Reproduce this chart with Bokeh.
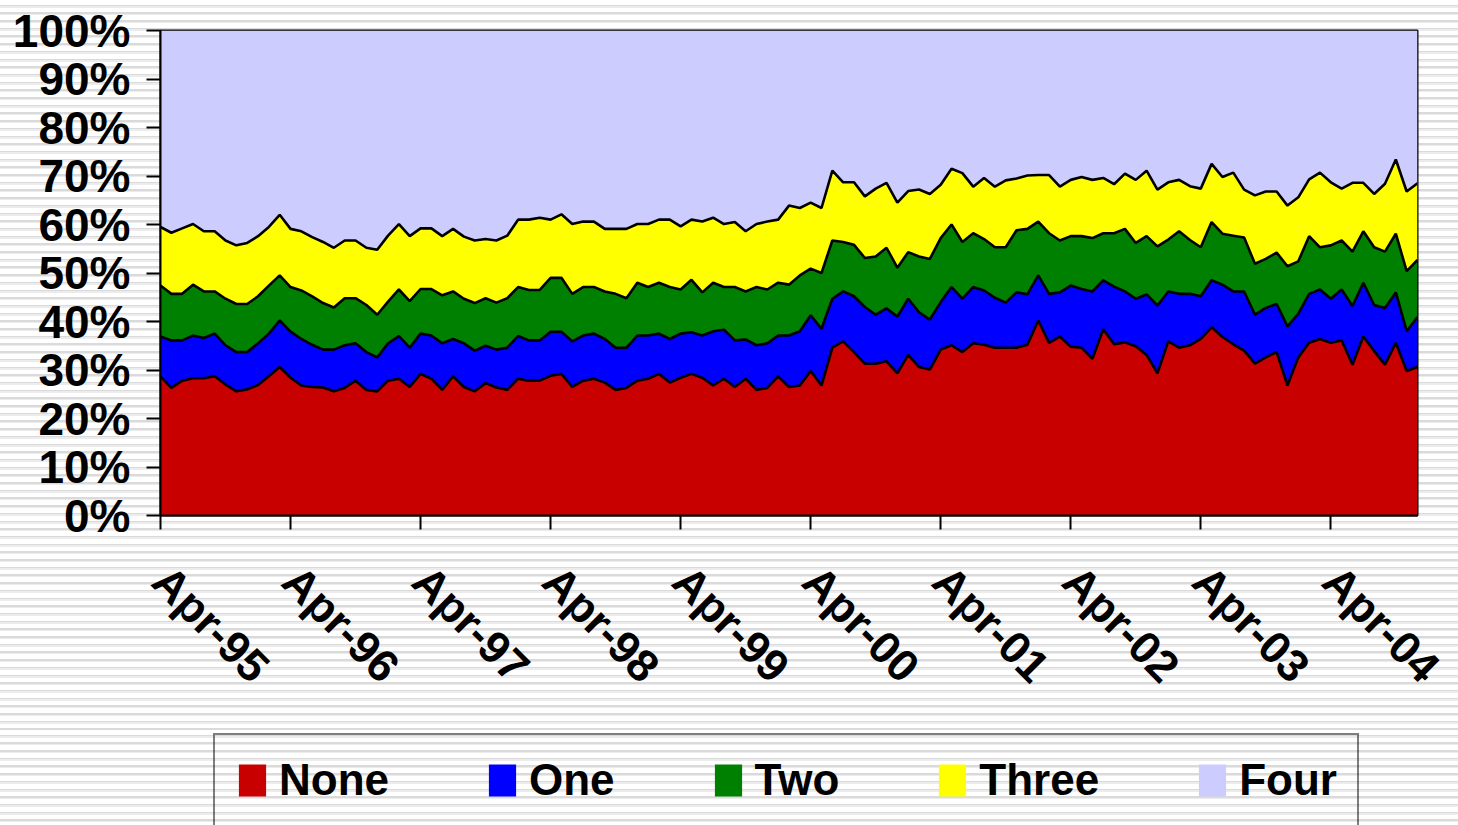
import math
from bokeh.plotting import figure
from bokeh.layouts import column
from bokeh.models import ColumnDataSource, FixedTicker, Legend, LegendItem, Range1d
from bokeh.transform import stack
from bokeh.embed import file_html
from bokeh.resources import INLINE

# ---------------- data (percent of total, monthly Apr-95 .. Dec-04) ----------------
series = ["None", "One", "Two", "Three", "Four"]
colors = ["#C80000", "#0000FF", "#008000", "#FFFF00", "#CCCCFF"]

none = [28.7, 26.3, 27.8, 28.3, 28.3, 28.7, 27.0, 25.6, 26.0, 26.9,
        28.7, 30.6, 28.4, 26.8, 26.5, 26.4, 25.6, 26.3, 27.8, 25.9,
        25.6, 27.8, 28.2, 26.5, 29.2, 28.2, 25.9, 28.7, 26.5, 25.6,
        27.3, 26.4, 25.9, 28.2, 27.8, 27.8, 28.8, 29.2, 26.5, 27.8,
        28.2, 27.4, 25.9, 26.3, 27.8, 28.2, 29.2, 27.4, 28.4, 29.2,
        28.4, 26.8, 28.2, 26.5, 28.2, 25.9, 26.3, 28.7, 26.5, 26.8,
        29.8, 26.8, 34.6, 35.9, 33.7, 31.3, 31.3, 31.8, 29.3, 33.1,
        30.6, 30.1, 34.2, 35.1, 33.7, 35.5, 35.2, 34.6, 34.6, 34.6,
        35.2, 40.2, 35.6, 36.9, 34.8, 34.6, 32.3, 38.4, 35.3, 35.7,
        34.9, 33.1, 29.3, 35.9, 34.6, 35.1, 36.4, 38.8, 36.8, 35.3,
        34.0, 31.3, 32.6, 33.7, 26.8, 32.6, 35.6, 36.4, 35.6, 36.1,
        31.1, 36.9, 33.9, 31.1, 35.6, 29.8, 30.6]

one = [8.2, 9.8, 8.3, 8.8, 8.3, 8.8, 8.1, 8.1, 7.7, 8.6,
       8.8, 9.6, 9.5, 9.6, 8.7, 7.8, 8.6, 8.8, 7.7, 7.8,
       7.0, 7.7, 8.8, 8.1, 8.3, 8.9, 9.6, 7.7, 9.0, 8.4,
       7.7, 7.8, 8.7, 8.8, 8.3, 8.3, 9.1, 8.7, 9.4, 9.3,
       9.3, 9.0, 8.7, 8.3, 9.3, 8.9, 8.3, 9.0, 9.1, 8.6,
       8.7, 11.2, 10.1, 9.6, 8.1, 9.2, 9.2, 8.4, 10.6, 11.2,
       11.5, 11.7, 10.1, 10.3, 11.5, 11.7, 10.1, 10.9, 11.7, 11.6,
       11.3, 10.3, 9.8, 12.0, 11.0, 11.6, 11.2, 10.3, 9.3, 11.4,
       10.4, 9.3, 10.1, 9.1, 12.6, 12.1, 13.9, 10.1, 11.9, 10.5,
       9.8, 12.5, 14.0, 10.3, 11.1, 10.6, 8.8, 9.7, 10.8, 10.9,
       12.2, 10.1, 10.2, 9.9, 12.2, 9.0, 10.1, 10.2, 9.1, 10.5,
       12.1, 11.1, 9.5, 11.7, 10.4, 8.2, 10.3]

two = [10.5, 9.6, 9.6, 10.5, 9.6, 8.7, 9.6, 9.9, 9.9, 9.7,
       9.9, 9.3, 9.2, 10.0, 10.0, 9.6, 8.7, 9.7, 9.3, 9.7,
       8.8, 8.6, 9.6, 9.6, 9.2, 9.6, 9.9, 9.8, 9.2, 9.8,
       9.8, 9.7, 10.2, 10.1, 10.4, 10.4, 11.1, 11.1, 9.8, 10.0,
       9.6, 9.8, 11.1, 10.2, 10.9, 10.0, 10.5, 10.7, 9.1, 10.8,
       8.9, 10.0, 8.8, 11.0, 9.9, 12.0, 11.1, 10.9, 10.5, 11.5,
       9.6, 11.5, 12.0, 10.2, 10.6, 10.1, 12.0, 12.5, 10.1, 9.6,
       11.5, 12.5, 13.2, 12.9, 11.7, 11.1, 10.6, 10.4, 11.4, 12.8,
       13.5, 11.1, 12.5, 10.7, 10.2, 10.9, 11.0, 9.7, 11.0, 12.9,
       11.5, 12.0, 12.2, 10.7, 12.9, 11.1, 10.1, 12.0, 10.5, 11.5,
       11.1, 10.5, 10.1, 10.6, 12.4, 10.8, 11.9, 8.7, 11.0, 10.1,
       11.2, 10.6, 11.9, 11.6, 12.1, 12.4, 11.8]

three = [12.1, 12.6, 13.5, 12.5, 12.4, 12.4, 12.0, 12.1, 12.6, 12.4,
         12.1, 12.5, 12.0, 12.2, 12.2, 12.6, 12.3, 11.9, 11.9, 11.8,
         13.4, 13.6, 13.5, 13.4, 12.5, 12.5, 12.2, 12.9, 12.8, 12.9,
         12.2, 12.8, 12.9, 13.9, 14.5, 14.9, 12.0, 13.1, 14.4, 13.5,
         13.5, 12.9, 13.4, 14.3, 12.1, 13.0, 13.0, 13.9, 13.0, 12.4,
         14.6, 13.4, 13.0, 13.4, 12.4, 13.0, 14.0, 13.0, 16.3, 13.9,
         13.6, 13.4, 14.4, 12.3, 12.9, 12.7, 14.0, 13.4, 13.4, 12.6,
         13.8, 13.4, 11.0, 11.5, 14.2, 9.6, 12.6, 12.5, 13.8, 10.7,
         11.0, 9.6, 12.0, 11.1, 11.6, 12.2, 12.0, 11.4, 10.1, 11.4,
         13.0, 13.5, 11.7, 11.8, 10.6, 11.1, 12.1, 12.0, 11.7, 13.0,
         9.9, 14.1, 13.9, 12.6, 12.5, 13.2, 11.7, 15.4, 13.0, 10.7,
         14.2, 10.0, 11.0, 14.0, 15.3, 16.4, 15.8]

four = [40.5, 41.7, 40.8, 39.9, 41.4, 41.4, 43.3, 44.3, 43.8, 42.4,
        40.5, 38.0, 40.9, 41.4, 42.6, 43.6, 44.8, 43.3, 43.3, 44.8,
        45.2, 42.3, 39.9, 42.4, 40.8, 40.8, 42.4, 40.9, 42.5, 43.3,
        43.0, 43.3, 42.3, 39.0, 39.0, 38.6, 39.0, 37.9, 39.9, 39.4,
        39.4, 40.9, 40.9, 40.9, 39.9, 39.9, 39.0, 39.0, 40.4, 39.0,
        39.4, 38.6, 39.9, 39.5, 41.4, 39.9, 39.4, 39.0, 36.1, 36.6,
        35.5, 36.6, 28.9, 31.3, 31.3, 34.2, 32.6, 31.4, 35.5, 33.1,
        32.8, 33.7, 31.8, 28.5, 29.4, 32.2, 30.4, 32.2, 30.9, 30.5,
        29.9, 29.8, 29.8, 32.2, 30.8, 30.2, 30.8, 30.4, 31.7, 29.5,
        30.8, 28.9, 32.8, 31.3, 30.8, 32.1, 32.6, 27.5, 30.2, 29.3,
        32.8, 34.0, 33.2, 33.2, 36.1, 34.4, 30.7, 29.3, 31.3, 32.6,
        31.4, 31.4, 33.7, 31.6, 26.6, 33.2, 31.5]

x_tick_labels = ["Apr-95", "Apr-96", "Apr-97", "Apr-98", "Apr-99",
                 "Apr-00", "Apr-01", "Apr-02", "Apr-03", "Apr-04"]
y_tick_labels = ["0%", "10%", "20%", "30%", "40%", "50%",
                 "60%", "70%", "80%", "90%", "100%"]

# ---------------- source ----------------
month = list(range(len(none)))
source = ColumnDataSource(dict(month=month, **dict(zip(series, [none, one, two, three, four]))))

FONT = "Liberation Sans"
STRIPES = {"background-image": "repeating-linear-gradient(180deg, #ffffff 0px, #ffffff 4.7px, "
                               "#dadada 4.7px, #dadada 6.2px, #ececec 6.2px, #ececec 7.7px)"}

# ---------------- main chart ----------------
p = figure(width=1458, height=730, output_backend="svg", toolbar_location=None,
           x_range=Range1d(0, len(month) - 1), y_range=Range1d(0, 100),
           min_border_left=160, min_border_right=41, min_border_top=30, min_border_bottom=215)
p.styles = STRIPES
p.border_fill_alpha = 0
p.background_fill_color = "#CCCCFF"
p.outline_line_color = "black"
p.outline_line_width = 2
p.grid.visible = False

areas = p.varea_stack(stackers=series, x="month", color=colors, source=source)
for k in range(1, len(series)):
    p.line(x="month", y=stack(*series[:k]), source=source,
           line_color="black", line_width=2.6)

tick_pos = [12 * i for i in range(len(x_tick_labels))]
p.xaxis.ticker = FixedTicker(ticks=tick_pos)
p.xaxis.major_label_overrides = dict(zip(tick_pos, x_tick_labels))
p.xaxis.major_label_orientation = -math.pi / 4
p.xaxis.major_label_standoff = 44

y_ticks = [10 * i for i in range(len(y_tick_labels))]
p.yaxis.ticker = FixedTicker(ticks=y_ticks)
p.yaxis.major_label_overrides = dict(zip(y_ticks, y_tick_labels))
p.yaxis.major_label_standoff = 16

for ax in (p.xaxis, p.yaxis):
    ax.axis_line_color = "black"
    ax.axis_line_width = 2
    ax.major_tick_line_color = "black"
    ax.major_tick_line_width = 2
    ax.major_tick_out = 14
    ax.major_tick_in = 0
    ax.minor_tick_line_color = None
    ax.major_label_text_font = FONT
    ax.major_label_text_font_style = "bold"
    ax.major_label_text_color = "black"
p.yaxis.major_label_text_font_size = "46px"
p.xaxis.major_label_text_font_size = "45px"

# ---------------- legend strip (same series, data kept out of view) ----------------
pl = figure(width=1458, height=95, output_backend="svg", toolbar_location=None,
            x_range=Range1d(0, 1), y_range=Range1d(1000, 1001),
            x_axis_type=None, y_axis_type=None, min_border=0)
pl.styles = STRIPES
pl.border_fill_alpha = 0
pl.background_fill_alpha = 0
pl.outline_line_color = None
pl.grid.visible = False
leg_areas = pl.varea_stack(stackers=series, x="month", color=colors, source=source)

legend = Legend(items=[LegendItem(label=s, renderers=[r]) for s, r in zip(series, leg_areas)],
                orientation="horizontal", location=(53, -2),
                label_text_font=FONT, label_text_font_style="bold",
                label_text_font_size="44px", label_text_color="black",
                glyph_width=34, glyph_height=40, label_standoff=10,
                spacing=96, padding=20,
                border_line_color="black", border_line_width=2,
                background_fill_alpha=0)
pl.add_layout(legend, "center")

layout = column(p, pl, spacing=0)
open("out.html", "w").write(file_html(layout, INLINE))
